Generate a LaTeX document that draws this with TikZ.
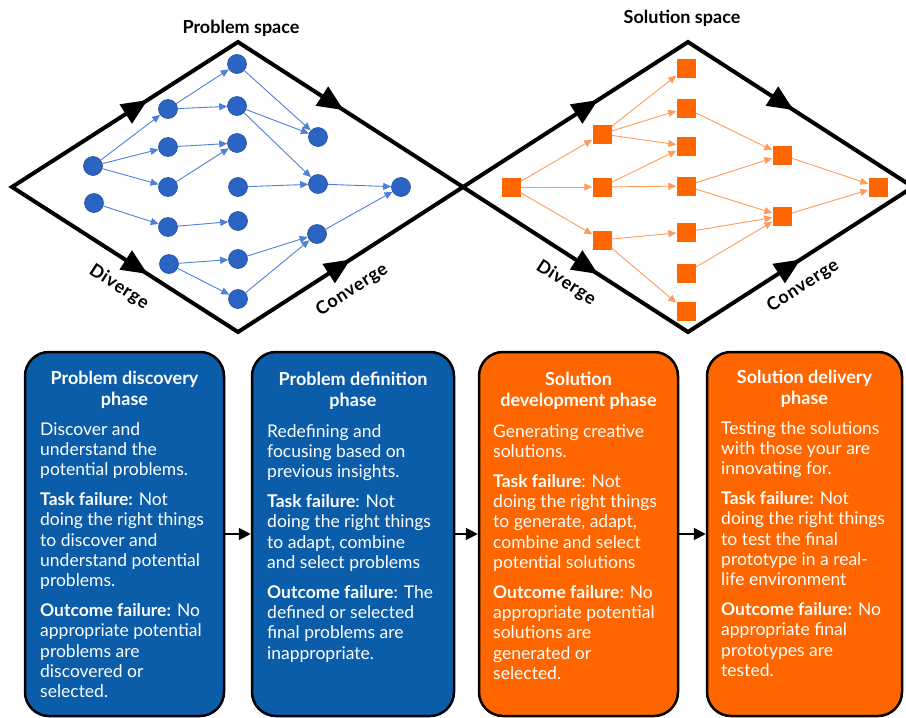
\documentclass[tikz,border=0pt]{standalone}
\usepackage{fontspec}
\setmainfont{Lato}
\usetikzlibrary{arrows.meta,calc}

\definecolor{dotblue}{HTML}{2B64C2}
\definecolor{dotrim}{HTML}{1F4E9C}
\definecolor{linkblue}{HTML}{4D80D8}
\definecolor{boxblue}{HTML}{0B5DAA}
\definecolor{solorange}{HTML}{FF6600}
\definecolor{linkorange}{HTML}{FF9C5A}

\tikzset{
  dot/.style={circle, fill=dotblue, draw=dotrim, line width=0.6pt, minimum size=19pt, inner sep=0pt},
  sq/.style={rectangle, fill=solorange, minimum size=19pt, inner sep=0pt},
  blink/.style={draw=linkblue, line width=0.9pt, -{Triangle[length=8pt,width=7pt]}},
  olink/.style={draw=linkorange, line width=0.9pt, -{Triangle[length=8pt,width=7pt]}},
  frame/.style={line width=4pt, line join=miter},
  bigtip/.style={draw, line width=4pt, -{Triangle[length=26pt,width=22pt]}},
  phasebox/.style={rectangle, rounded corners=24pt, draw=black, line width=2.5pt, minimum height=364pt, inner sep=0pt},
  flow/.style={line width=2pt, -{Triangle[length=12pt,width=12pt]}},
  spacetitle/.style={anchor=base, inner sep=0pt, font=\fontsize{18}{21}\selectfont\bfseries},
  edgelabel/.style={inner sep=0pt, font=\fontsize{18}{18}\selectfont\bfseries\addfontfeature{LetterSpace=4}},
  phasetitle/.style={anchor=base, inner sep=0pt, text=white},
  phasebody/.style={anchor=base west, inner sep=0pt, text=white},
}

\newcommand{\phasehead}[1]{\parbox[t]{190pt}{\centering\fontsize{18}{21}\selectfont\bfseries #1}}
\newcommand{\phasetext}[1]{\parbox[t]{186pt}{\raggedright\fontsize{17.5}{20.3}\selectfont #1}}

\begin{document}
\begin{tikzpicture}[x=1pt, y=-1pt]
\useasboundingbox (0,0) rectangle (906,718);

% ---------- double diamond frame ----------
\coordinate (L)  at (12,187);
\coordinate (T1) at (238,42);
\coordinate (M)  at (463,187);
\coordinate (B1) at (238,332);
\coordinate (T2) at (688,42);
\coordinate (B2) at (688,332);
\coordinate (R)  at (913,187);

\draw[frame] (L) -- (T1) -- (M) -- (T2) -- (R) -- (B2) -- (M) -- (B1) -- cycle;

% direction markers on the frame
\path[bigtip] ($(L)!0.52!(T1)$) -- ($(L)!0.6!(T1)$);
\path[bigtip] ($(T1)!0.39!(M)$) -- ($(T1)!0.47!(M)$);
\path[bigtip] ($(L)!0.52!(B1)$) -- ($(L)!0.6!(B1)$);
\path[bigtip] ($(B1)!0.42!(M)$) -- ($(B1)!0.5!(M)$);
\path[bigtip] ($(M)!0.52!(T2)$) -- ($(M)!0.6!(T2)$);
\path[bigtip] ($(T2)!0.39!(R)$) -- ($(T2)!0.47!(R)$);
\path[bigtip] ($(M)!0.52!(B2)$) -- ($(M)!0.6!(B2)$);
\path[bigtip] ($(B2)!0.42!(R)$) -- ($(B2)!0.5!(R)$);

% titles and edge labels
\node[spacetitle] (pspace) at (241,33) {Problem space};
\node[spacetitle] (sspace) at (682,23) {Solution space};
\node[edgelabel, rotate=-33] (div1) at (119,287) {Diverge};
\node[edgelabel, rotate=33]  (con1) at (352,290) {Converge};
\node[edgelabel, rotate=-33] (div2) at (566,283) {Diverge};
\node[edgelabel, rotate=33]  (con2) at (803,286) {Converge};

% ---------- problem space network ----------
\node[dot] (a1) at (93,166) {};
\node[dot] (a2) at (94,203) {};
\node[dot] (b1) at (168,109) {};
\node[dot] (b2) at (168,147) {};
\node[dot] (b3) at (168,187) {};
\node[dot] (b4) at (168,227) {};
\node[dot] (b5) at (169,264) {};
\node[dot] (c1) at (237,64) {};
\node[dot] (c2) at (237,106) {};
\node[dot] (c3) at (237,143) {};
\node[dot] (c4) at (238,187) {};
\node[dot] (c5) at (238,221) {};
\node[dot] (c6) at (238,259) {};
\node[dot] (c7) at (238,299) {};
\node[dot] (d1) at (318,137) {};
\node[dot] (d2) at (318,184) {};
\node[dot] (d3) at (317,234) {};
\node[dot] (e1) at (401,187) {};

\draw[blink] (a1) -- (b1);
\draw[blink] (a1) -- (b2);
\draw[blink] (a1) -- (b3);
\draw[blink] (a2) -- (b4);
\draw[blink] (b1) -- (c1);
\draw[blink] (b1) -- (c2);
\draw[blink] (b2) -- (c3);
\draw[blink] (b3) -- (c3);
\draw[blink] (b4) -- (c5);
\draw[blink] (b5) -- (c6);
\draw[blink] (b5) -- (c7);
\draw[blink] (c1) -- (d1);
\draw[blink] (c2) -- (d1);
\draw[blink] (c2) -- (d2);
\draw[blink] (c4) -- (d2);
\draw[blink] (c6) -- (d3);
\draw[blink] (c7) -- (d3);
\draw[blink] (d2) -- (e1);
\draw[blink] (d3) -- (e1);

% ---------- solution space network ----------
\node[sq] (p)  at (511,187) {};
\node[sq] (q1) at (602,134) {};
\node[sq] (q2) at (602,187) {};
\node[sq] (q3) at (602,240) {};
\node[sq] (r1) at (686,68) {};
\node[sq] (r2) at (686,108) {};
\node[sq] (r3) at (686,146) {};
\node[sq] (r4) at (686,186) {};
\node[sq] (r5) at (686,232) {};
\node[sq] (r6) at (686,273) {};
\node[sq] (r7) at (686,311) {};
\node[sq] (s1) at (782,155) {};
\node[sq] (s2) at (782,216) {};
\node[sq] (t)  at (878,187) {};

\draw[olink] (p) -- (q1);
\draw[olink] (p) -- (q2);
\draw[olink] (p) -- (q3);
\draw[olink] (q1) -- (r1);
\draw[olink] (q1) -- (r2);
\draw[olink] (q1) -- (r3);
\draw[olink] (q2) -- (r3);
\draw[olink] (q2) -- (r4);
\draw[olink] (q3) -- (r5);
\draw[olink] (q3) -- (r7);
\draw[olink] (r2) -- (s1);
\draw[olink] (r4) -- (s1);
\draw[olink] (r4) -- (s2);
\draw[olink] (r5) -- (s2);
\draw[olink] (r6) -- (s2);
\draw[olink] (s1) -- (t);
\draw[olink] (s2) -- (t);

% ---------- phase boxes ----------
\node[phasebox, fill=boxblue,   minimum width=199pt] (ph1) at (124.5,534) {};
\node[phasebox, fill=boxblue,   minimum width=202pt] (ph2) at (353,534) {};
\node[phasebox, fill=solorange, minimum width=199pt] (ph3) at (578.5,534) {};
\node[phasebox, fill=solorange, minimum width=195pt] (ph4) at (804.5,534) {};

\draw[flow] (ph1.east) -- (ph2.west);
\draw[flow] (ph2.east) -- (ph3.west);
\draw[flow] (ph3.east) -- (ph4.west);

\node[phasetitle] (h1) at (124.5,384) {\phasehead{Problem discovery\\phase}};
\node[phasetitle] (h2) at (353,385) {\phasehead{Problem definition\\phase}};
\node[phasetitle] (h3) at (578.5,385) {\phasehead{Solution\\development phase}};
\node[phasetitle] (h4) at (804.5,383) {\phasehead{Solution delivery\\phase}};

\node[phasebody] (t1) at (40,435) {\phasetext{%
Discover and\\understand the\\potential problems.\\[9.5pt]
\textbf{Task failure:} Not\\doing the right things\\to discover and\\understand potential\\problems.\\[9.5pt]
\textbf{Outcome failure:} No\\appropriate potential\\problems are\\discovered or\\selected.}};

\node[phasebody] (t2) at (267,437) {\phasetext{%
Redefining and\\focusing based on\\previous insights.\\[9.5pt]
\textbf{Task failure}: Not\\doing the right things\\to adapt, combine\\and select problems\\[9.5pt]
\textbf{Outcome failure}: The\\defined or selected\\final problems are\\inappropriate.}};

\node[phasebody] (t3) at (493,437) {\phasetext{%
Generating creative\\solutions.\\[9.5pt]
\textbf{Task failure}: Not\\doing the right things\\to generate, adapt,\\combine and select\\potential solutions\\[9.5pt]
\textbf{Outcome failure}: No\\appropriate potential\\solutions are\\generated or\\selected.}};

\node[phasebody] (t4) at (721,434) {\phasetext{%
Testing the solutions\\with those your are\\innovating for.\\[9.5pt]
\textbf{Task failure:} Not\\doing the right things\\to test the final\\prototype in a real-\\life environment\\[9.5pt]
\textbf{Outcome failure:} No\\appropriate final\\prototypes are\\tested.}};

\end{tikzpicture}
\end{document}
